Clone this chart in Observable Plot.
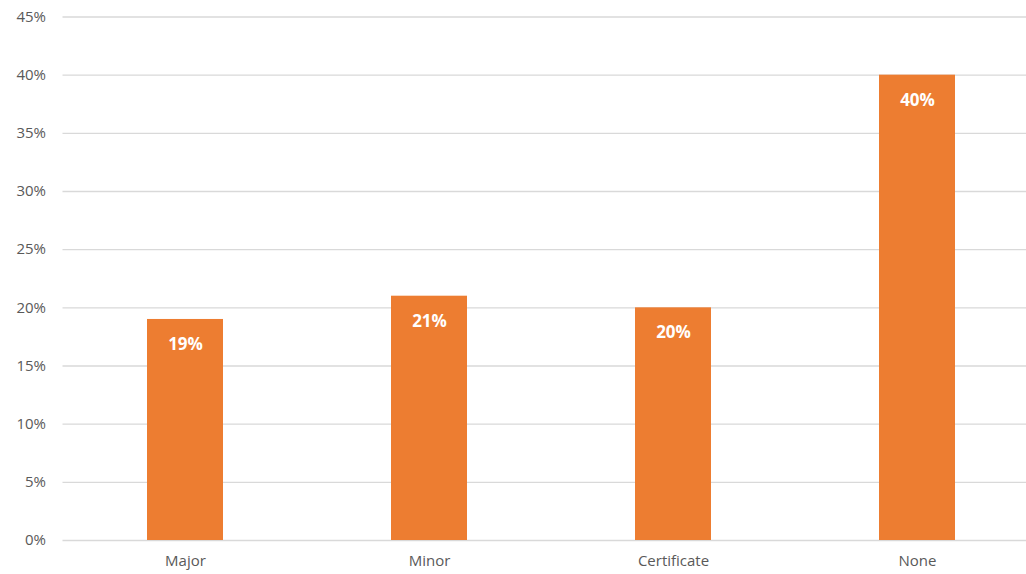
<!DOCTYPE html>
<html>
<head>
<meta charset="utf-8">
<script src="https://cdn.jsdelivr.net/npm/d3@7"></script>
<script src="https://cdn.jsdelivr.net/npm/@observablehq/plot@0.6"></script>
<style>
  html, body { margin: 0; padding: 0; background: #fff; overflow: hidden; }
</style>
</head>
<body>
<div id="chart"></div>
<script>
const categories = ["Major", "Minor", "Certificate", "None"];
const values = [19, 21, 20, 40];
const yTicks = [0, 5, 10, 15, 20, 25, 30, 35, 40, 45];

const data = categories.map((c, i) => ({category: c, value: values[i]}));

const W = 1026, H = 574, ML = 62.5, MT = 16.5, MB = 34;
const chart = Plot.plot({
  width: W,
  height: H,
  marginLeft: ML,
  marginRight: 0,
  marginTop: MT,
  marginBottom: MB,
  style: {fontFamily: "'Open Sans', 'Liberation Sans', sans-serif", background: "#fff", overflow: "hidden"},
  x: {domain: categories, range: [ML, ML + 976], paddingInner: 0.689, paddingOuter: 0.3445, align: 0.5, label: null},
  y: {domain: [0, 45], label: null},
  marks: [
    Plot.ruleY(yTicks, {stroke: "#d9d9d9", strokeWidth: 1.3}),
    Plot.barY(data, {x: "category", y: "value", fill: "#ED7D31"}),
    Plot.text(data, {x: "category", y: "value", text: d => d.value + "%", fill: "#fff", fontWeight: "bold", fontSize: 17, dy: 25}),
    Plot.axisY(yTicks, {tickSize: 0, tickPadding: 17, tickFormat: d => d + "%", fontSize: 15, fill: "#595959", anchor: "left"}),
    Plot.axisX({tickSize: 0, tickPadding: 15, fontSize: 15, fill: "#595959", anchor: "bottom"})
  ]
});
document.getElementById("chart").appendChild(chart);
</script>
</body>
</html>
